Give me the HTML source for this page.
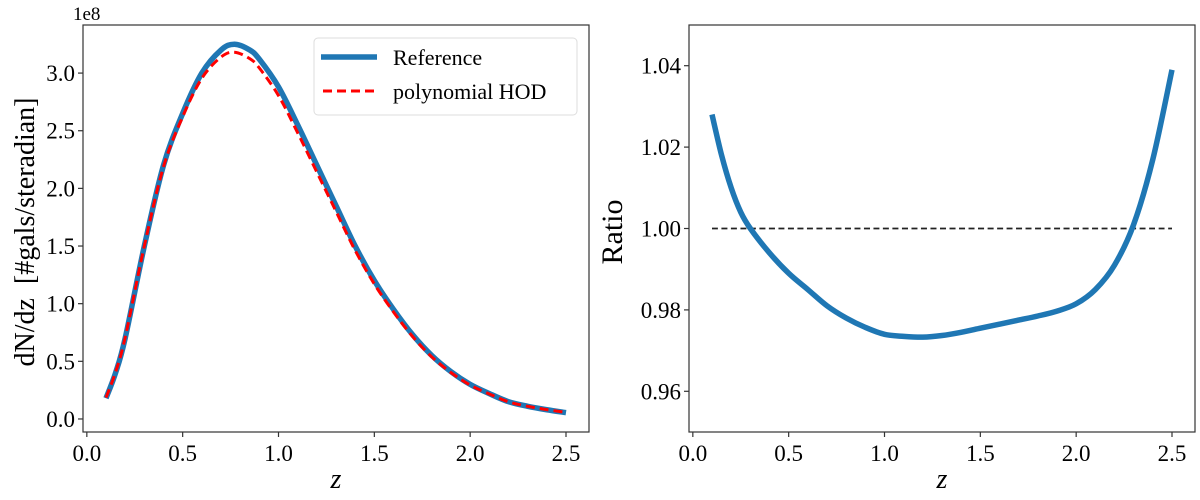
<!DOCTYPE html>
<html><head><meta charset="utf-8"><style>
body{margin:0;background:#fff}
svg text{font-family:"Liberation Serif","DejaVu Serif",serif;fill:#000}
</style></head><body>
<svg id="c" width="1200" height="495" xmlns="http://www.w3.org/2000/svg"></svg>
<script>
const zVals=[0.1,0.15,0.2,0.3,0.4,0.5,0.6,0.7,0.77,0.85,0.9,1.0,1.1,1.2,1.3,1.4,1.5,1.6,1.7,1.8,1.9,2.0,2.1,2.2,2.3,2.4,2.5];
const refVals=[0.18,0.4,0.7,1.5,2.2,2.65,3.0,3.2,3.25,3.2,3.12,2.88,2.55,2.2,1.85,1.5,1.2,0.95,0.73,0.55,0.41,0.3,0.22,0.15,0.11,0.08,0.055];
const hodVals=[0.185,0.407,0.707,1.5,2.187,2.621,2.955,3.139,3.181,3.125,3.044,2.805,2.482,2.141,1.801,1.462,1.171,0.928,0.714,0.538,0.402,0.294,0.217,0.149,0.11,0.081,0.057];
const ratioZ=[0.1,0.15,0.2,0.25,0.3,0.4,0.5,0.6,0.7,0.8,0.9,1.0,1.1,1.2,1.3,1.4,1.5,1.6,1.7,1.8,1.9,2.0,2.1,2.2,2.3,2.4,2.5];
const ratioVals=[1.028,1.018,1.01,1.004,1.0,0.994,0.989,0.985,0.981,0.978,0.9757,0.974,0.9735,0.9733,0.9737,0.9745,0.9755,0.9765,0.9775,0.9785,0.9797,0.9815,0.985,0.991,1.001,1.017,1.039];
const xTicks=[0,0.5,1.0,1.5,2.0,2.5];
const xTickLabels=["0.0","0.5","1.0","1.5","2.0","2.5"];
const yTicksL=[0,0.5,1.0,1.5,2.0,2.5,3.0];
const yTickLabelsL=["0.0","0.5","1.0","1.5","2.0","2.5","3.0"];
const yTicksR=[0.96,0.98,1.00,1.02,1.04];
const yTickLabelsR=["0.96","0.98","1.00","1.02","1.04"];

const svg=document.getElementById('c');
const NS='http://www.w3.org/2000/svg';
function mk(tag,attrs,parent){const e=document.createElementNS(NS,tag);for(const k in attrs)e.setAttribute(k,attrs[k]);(parent||svg).appendChild(e);return e;}
function txt(s,attrs,parent){const e=mk('text',attrs,parent);e.textContent=s;return e;}

function panel(px0,px1,py0,py1,xmin,xmax,ymin,ymax,name){
  const g=mk('g',{});
  
  
  const sx=v=>px0+(v-xmin)/(xmax-xmin)*(px1-px0);
  const sy=v=>py1-(v-ymin)/(ymax-ymin)*(py1-py0);
  return {g,sx,sy,px0,px1,py0,py1};
}
function frame(p){
  const r=mk('rect',{x:p.px0,y:p.py0,width:p.px1-p.px0,height:p.py1-p.py0,fill:'none',stroke:'#333','stroke-width':1.2},p.g);
  
  
}
function xAxis(p){
  xTicks.forEach((t,i)=>{
    const x=p.sx(t);
    const l=mk('line',{x1:x,x2:x,y1:p.py1,y2:p.py1+5,stroke:'#333','stroke-width':1.2},p.g);
    
    
    const tl=txt(xTickLabels[i],{x:x,y:p.py1+29,'font-size':23,'text-anchor':'middle'},p.g);
    
    
  });
  const xl=txt('z',{x:(p.px0+p.px1)/2,y:p.py1+56,'font-size':28,'font-style':'italic','text-anchor':'middle'},p.g);
  
  
}
function yAxis(p,ticks,labels){
  ticks.forEach((t,i)=>{
    const y=p.sy(t);
    const l=mk('line',{x1:p.px0-5,x2:p.px0,y1:y,y2:y,stroke:'#333','stroke-width':1.2},p.g);
    
    
    const tl=txt(labels[i],{x:p.px0-8,y:y+8,'font-size':23,'text-anchor':'end'},p.g);
    
    
  });
}
function path(p,xs,ys,attrs,name){
  const P=xs.map((x,i)=>[p.sx(x),p.sy(ys[i])]);
  let d='M'+P[0][0].toFixed(2)+' '+P[0][1].toFixed(2);
  for(let i=0;i<P.length-1;i++){
    const p0=P[Math.max(0,i-1)],p1=P[i],p2=P[i+1],p3=P[Math.min(P.length-1,i+2)];
    const c1=[p1[0]+(p2[0]-p0[0])/6,p1[1]+(p2[1]-p0[1])/6];
    const c2=[p2[0]-(p3[0]-p1[0])/6,p2[1]-(p3[1]-p1[1])/6];
    d+=' C'+c1[0].toFixed(2)+' '+c1[1].toFixed(2)+' '+c2[0].toFixed(2)+' '+c2[1].toFixed(2)+' '+p2[0].toFixed(2)+' '+p2[1].toFixed(2);
  }
  const e=mk('path',Object.assign({d:d,fill:'none','stroke-linejoin':'round'},attrs),p.g);
  
  
  return e;
}

// Left panel
const L=panel(83,589,25,432,-0.02,2.62,-0.113,3.417,'left-panel');
xAxis(L); yAxis(L,yTicksL,yTickLabelsL);
path(L,zVals,refVals,{stroke:'#1f77b4','stroke-width':5.5},'reference-line');
path(L,zVals,hodVals,{stroke:'#ff0000','stroke-width':3,'stroke-dasharray':'9,5'},'polynomial-hod-line');
frame(L);
const oe=txt('1e8',{x:73,y:20,'font-size':19},L.g);


const yl=txt('dN/dz  [#gals/steradian]',{x:0,y:0,'font-size':28,'text-anchor':'middle',transform:'translate(34,232) rotate(-90)'},L.g);
yl.setAttribute('style','white-space:pre');


// legend
const lg=mk('g',{});


mk('rect',{x:314,y:38,width:263,height:77,rx:4,fill:'#fff','fill-opacity':0.8,stroke:'#ddd','stroke-width':1},lg);
const le1=mk('line',{x1:321,x2:377,y1:57,y2:57,stroke:'#1f77b4','stroke-width':5.5},lg);


txt('Reference',{x:393,y:65,'font-size':22},lg);
const le2=mk('line',{x1:323,x2:377,y1:91,y2:91,stroke:'#ff0000','stroke-width':3,'stroke-dasharray':'9,5'},lg);


txt('polynomial HOD',{x:393,y:99,'font-size':22},lg);

// Right panel
const R=panel(689,1195,25,432,-0.02,2.62,0.95,1.05,'right-panel');
xAxis(R); yAxis(R,yTicksR,yTickLabelsR);
path(R,[0.1,2.5],[1.0,1.0],{stroke:'#222','stroke-width':1.8,'stroke-dasharray':'6,3.5'},'unity-line');
path(R,ratioZ,ratioVals,{stroke:'#1f77b4','stroke-width':5.5},'ratio-line');
frame(R);
const rl=txt('Ratio',{x:0,y:0,'font-size':30,'text-anchor':'middle',transform:'translate(622,232) rotate(-90)'},R.g);


</script>
</body></html>
